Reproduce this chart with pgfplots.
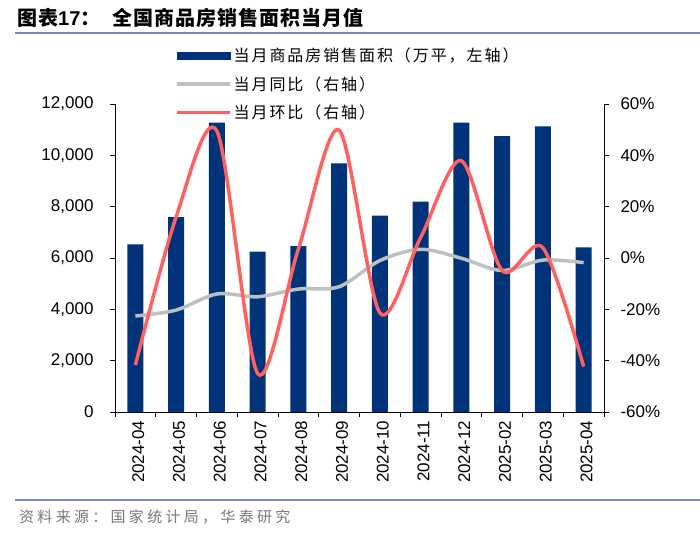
\documentclass[border=0pt]{standalone}
\usepackage{pgfplots}
\pgfplotsset{compat=1.18}
\usepackage{fontspec}
\setmainfont{Liberation Sans}
\newfontfamily\cjk{Noto Sans CJK SC}[LetterSpace=12]
\newfontfamily\cjkt{Noto Sans CJK SC}[LetterSpace=5]
\newfontfamily\cjks{Noto Sans CJK SC}[LetterSpace=22]

\definecolor{navy}{RGB}{0,51,122}
\definecolor{hred}{RGB}{255,97,97}
\definecolor{hgray}{RGB}{191,191,191}
\definecolor{rule}{RGB}{110,140,190}
\definecolor{srcgray}{RGB}{120,120,120}

\begin{document}
\begin{tikzpicture}[x=1pt,y=1pt]
\useasboundingbox (0,0) rectangle (700,533);

% title and source
\node[anchor=west, inner sep=0pt] at (17,515)
  {\fontsize{20}{22}\selectfont\bfseries{\cjkt 图表}17{\cjkt ：\hspace{12pt}全国商品房销售面积当月值}};
\draw[rule, line width=1.5pt] (15,500) -- (700,500);
\draw[rule, line width=1.2pt] (15,33) -- (700,33);
\node[anchor=west, inner sep=0pt, text=srcgray] at (19,16)
  {\fontsize{15}{17}\selectfont\cjks 资料来源：国家统计局，华泰研究};

% left axis: bars
\begin{axis}[
    at={(115pt,121pt)}, anchor=south west,
    scale only axis, width=489pt, height=308pt,
    xmin=-0.5, xmax=11.5,
    ymin=0, ymax=12000,
    axis x line=bottom, axis y line=left,
    axis line style={-, black, line width=0.8pt},
    tick style={black, line width=0.8pt},
    tick align=outside,
    major tick length=5pt,
    xtick={-0.5,0.5,...,11.5},
    x tick label as interval,
    xticklabels={2024-04,2024-05,2024-06,2024-07,2024-08,2024-09,2024-10,2024-11,2024-12,2025-02,2025-03,2025-04},
    xticklabel style={rotate=90, anchor=east, font=\fontsize{17}{19}\selectfont, yshift=-3pt},
    ytick={0,2000,...,12000},
    yticklabel style={font=\fontsize{17}{19}\selectfont, xshift=-13pt},
    /pgf/number format/assume math mode=true,
    /pgf/number format/1000 sep={,},
    scaled y ticks=false,
  ]
  \addplot[ybar, bar width=0.39, fill=navy, draw=none] coordinates {
    (0,6530) (1,7590) (2,11270) (3,6245) (4,6467) (5,9688)
    (6,7648) (7,8193) (8,11270) (9,10752) (10,11130) (11,6415)
  };
\end{axis}

% right axis: lines
\begin{axis}[
    at={(115pt,121pt)}, anchor=south west,
    scale only axis, width=489pt, height=308pt,
    xmin=-0.5, xmax=11.5,
    ymin=-60, ymax=60,
    axis x line=none, axis y line=right,
    axis line style={-, black, line width=0.8pt},
    tick style={black, line width=0.8pt},
    tick align=outside,
    major tick length=5pt,
    ytick={-60,-40,...,60},
    yticklabel={\pgfmathprintnumber{\tick}\%},
    yticklabel style={font=\fontsize{17}{19}\selectfont, xshift=8pt},
    /pgf/number format/assume math mode=true,
    legend style={at={(axis description cs:0.1227,1.19)}, anchor=north west,
      draw=none, fill=none, inner sep=0pt, row sep=9.5pt,
      font=\fontsize{16}{18}\selectfont\cjk, cells={anchor=west}},
    legend image code/.code={\draw[#1, line width=3.5pt] (0pt,0pt) -- (53pt,0pt);},
  ]
  \addlegendimage{legend image code/.code={\fill[navy] (0pt,-3.5pt) rectangle (53pt,3.5pt);}}
  \addlegendentry{当月商品房销售面积（万平，左轴）}
  \addplot[smooth, hgray, line width=3.5pt] coordinates {
    (0,-22.6) (1,-20.3) (2,-14.0) (3,-15.1) (4,-12.1) (5,-11.2)
    (6,-1.0) (7,3.4) (8,-0.1) (9,-4.9) (10,-0.8) (11,-1.8)
  };
  \addlegendentry{当月同比（右轴）}
  \addplot[smooth, hred, line width=3.5pt] coordinates {
    (0,-41.7) (1,16.0) (2,49.5) (3,-45.0) (4,3.5) (5,49.8)
    (6,-21.4) (7,8.0) (8,37.9) (9,-4.9) (10,4.0) (11,-42.3)
  };
  \addlegendentry{当月环比（右轴）}
\end{axis}
\end{tikzpicture}
\end{document}
